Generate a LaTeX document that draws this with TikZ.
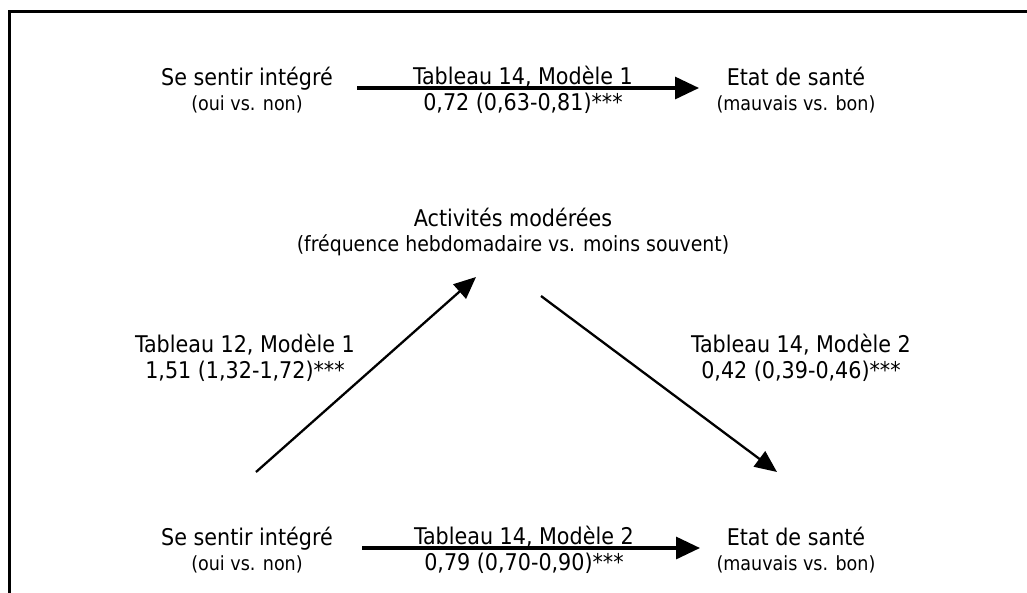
\documentclass[tikz,border=0pt]{standalone}
\usepackage{fontspec}
\setmainfont{DejaVu Sans Condensed}
\usetikzlibrary{arrows.meta}
\begin{document}
\begin{tikzpicture}[x=1pt,y=-1pt,
  big/.style={font=\fontsize{23}{27}\selectfont, inner sep=0pt, anchor=base},
  mid/.style={font=\fontsize{21}{25}\selectfont, inner sep=0pt, anchor=base},
  small/.style={font=\fontsize{19.5}{23}\selectfont, inner sep=0pt, anchor=base},
  arr/.style={line width=3.2pt, -{Triangle[length=24pt,width=22pt]}},
  darr/.style={line width=2.3pt, -{Triangle[length=22pt,width=19pt]}}]
\useasboundingbox (0,0) rectangle (1027,592);
\begin{scope}
\clip (0,0) rectangle (1027,592);
\draw[line width=3pt] (9,11) rectangle (1060,640);
\end{scope}
% top row
\node[big] (s1) at (247,85) {Se sentir intégré};
\node[small] (s1b) at (247,110) {(oui vs. non)};
\node[big] (e1) at (796,85) {Etat de santé};
\node[small] (e1b) at (796,110) {(mauvais vs. bon)};
\node[big] (l1) at (523,84) {Tableau 14, Modèle 1};
\node[big] (l1b) at (523,110) {0,72 (0,63-0,81)***};
\coordinate (a1s) at (357,88);
\coordinate (a1e) at (699,88);
\draw[arr] (a1s) -- (a1e);
% middle
\node[big] (m) at (513,226) {Activités modérées};
\node[mid] (mb) at (513,251) {(fréquence hebdomadaire vs. moins souvent)};
% diagonals
\coordinate (d1s) at (256,472);
\coordinate (d1e) at (476,277);
\draw[darr] (d1s) -- (d1e);
\coordinate (d2s) at (541,296);
\coordinate (d2e) at (777,472);
\draw[darr] (d2s) -- (d2e);
\node[big] (l2) at (245,352) {Tableau 12, Modèle 1};
\node[big] (l2b) at (245,378) {1,51 (1,32-1,72)***};
\node[big] (l3) at (801,352) {Tableau 14, Modèle 2};
\node[big] (l3b) at (801,378) {0,42 (0,39-0,46)***};
% bottom row
\node[big] (s2) at (247,545) {Se sentir intégré};
\node[small] (s2b) at (247,570) {(oui vs. non)};
\node[big] (e2) at (796,545) {Etat de santé};
\node[small] (e2b) at (796,570) {(mauvais vs. bon)};
\node[big] (l4) at (524,544) {Tableau 14, Modèle 2};
\node[big] (l4b) at (524,570) {0,79 (0,70-0,90)***};
\coordinate (a4s) at (362,548);
\coordinate (a4e) at (700,548);
\draw[arr] (a4s) -- (a4e);
\end{tikzpicture}
\end{document}
